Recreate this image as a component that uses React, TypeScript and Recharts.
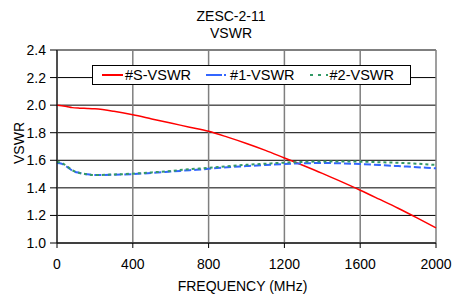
import {
  LineChart, Line, XAxis, YAxis, CartesianGrid, Legend,
} from 'recharts';

const freq = [0, 25, 50, 80, 120, 160, 200, 300, 400, 500, 600, 700, 800, 900, 1000, 1100, 1200, 1300, 1400, 1500, 1600, 1700, 1800, 1900, 2000];
const sVswr = [2.0, 1.995, 1.99, 1.982, 1.978, 1.976, 1.973, 1.955, 1.93, 1.9, 1.87, 1.84, 1.81, 1.768, 1.722, 1.672, 1.617, 1.562, 1.505, 1.445, 1.383, 1.318, 1.252, 1.182, 1.11];
const v1Vswr = [1.58, 1.575, 1.555, 1.525, 1.508, 1.498, 1.493, 1.495, 1.5, 1.508, 1.518, 1.528, 1.538, 1.55, 1.558, 1.566, 1.573, 1.578, 1.58, 1.578, 1.573, 1.566, 1.558, 1.55, 1.542];
const v2Vswr = [1.59, 1.58, 1.56, 1.528, 1.508, 1.498, 1.493, 1.497, 1.503, 1.512, 1.523, 1.535, 1.545, 1.557, 1.567, 1.575, 1.583, 1.588, 1.592, 1.592, 1.59, 1.586, 1.582, 1.575, 1.566];

const xTicks = [0, 400, 800, 1200, 1600, 2000];
const yTicks = [1.0, 1.2, 1.4, 1.6, 1.8, 2.0, 2.2, 2.4];

const data = freq.map((f, i) => ({ f, s: sVswr[i], a: v1Vswr[i], b: v2Vswr[i] }));

const FONT = '"Liberation Sans", Arial, sans-serif';

const legendItems = [
  { name: '#S-VSWR', color: '#ff0000', dash: undefined as string | undefined, w: 21 },
  { name: '#1-VSWR', color: '#3366ff', dash: '16 2 2 2', w: 22 },
  { name: '#2-VSWR', color: '#339966', dash: '3 5', w: 18 },
];

function LegendBox() {
  return (
    <div style={{
      width: 317, height: 18, border: '1px solid #000', background: '#fff',
      display: 'flex', alignItems: 'center', fontFamily: FONT, fontSize: 14.5,
      color: '#000', boxSizing: 'content-box', whiteSpace: 'nowrap',
    }}>
      {legendItems.map((it, i) => (
        <div key={it.name} style={{ display: 'flex', alignItems: 'center', marginLeft: i === 0 ? 9 : 15 }}>
          <svg width={it.w} height={4} style={{ marginRight: 2 }}>
            <line x1={0} y1={2} x2={it.w} y2={2} stroke={it.color} strokeWidth={2} strokeDasharray={it.dash} />
          </svg>
          <span>{it.name}</span>
        </div>
      ))}
    </div>
  );
}

export default function App() {
  return (
    <div style={{ position: 'absolute', left: 0, top: 0, width: 452, height: 296, background: '#fff', fontFamily: FONT }}>
      <div style={{ position: 'absolute', left: 131, width: 200, top: 8, textAlign: 'center', fontSize: 14, lineHeight: '16.5px', color: '#000', zIndex: 2 }}>
        ZESC-2-11<br />VSWR
      </div>
      <LineChart width={452} height={296} data={data} margin={{ top: 50, right: 16, bottom: 23, left: 0 }}>
        <CartesianGrid horizontal vertical={false} stroke="#000" strokeWidth={1} />
        <CartesianGrid horizontal={false} vertical stroke="#7f7f7f" strokeWidth={1.5} />
        <XAxis
          dataKey="f"
          type="number"
          domain={[0, 2000]}
          ticks={xTicks}
          height={30}
          stroke="#000"
          tickSize={5}
          tickMargin={11}
          tick={{ fill: '#000', fontSize: 14, fontFamily: FONT }}
          label={{ value: 'FREQUENCY (MHz)', position: 'insideBottom', offset: -18, fill: '#000', fontSize: 14, fontFamily: FONT, dx: -4 }}
        />
        <YAxis
          type="number"
          domain={[1.0, 2.4]}
          ticks={yTicks}
          width={57}
          stroke="#000"
          tickSize={7}
          tickMargin={4}
          tickFormatter={(v: number) => v.toFixed(1)}
          tick={{ fill: '#000', fontSize: 14, fontFamily: FONT }}
          label={{
            content: () => (
              <text x={24} y={143} transform="rotate(-90 24 143)" textAnchor="middle" fill="#000" fontSize={14} fontFamily={FONT}>VSWR</text>
            ),
          }}
        />
        <Legend
          layout="horizontal"
          verticalAlign="middle"
          align="center"
          wrapperStyle={{ left: 92, top: 65, width: 319, height: 20 }}
          content={() => <LegendBox />}
        />
        <Line type="monotone" dataKey="s" name="#S-VSWR" stroke="#ff0000" strokeWidth={1.5} dot={false} isAnimationActive={false} />
        <Line type="monotone" dataKey="a" name="#1-VSWR" stroke="#3366ff" strokeWidth={2} strokeDasharray="7 3" dot={false} isAnimationActive={false} />
        <Line type="monotone" dataKey="b" name="#2-VSWR" stroke="#339966" strokeWidth={2} strokeDasharray="3 3" dot={false} isAnimationActive={false} />
      </LineChart>
    </div>
  );
}
